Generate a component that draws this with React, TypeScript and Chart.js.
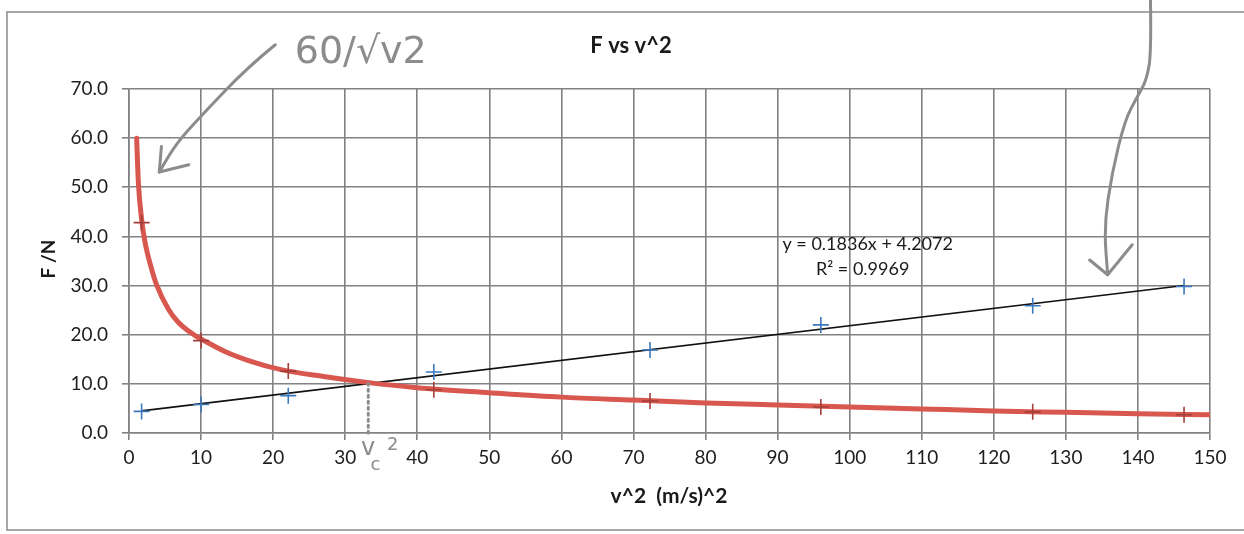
import React, { useEffect, useRef } from 'react';
import { Chart, registerables } from 'chart.js';

Chart.register(...registerables);

// ---- data ----
const v2Values = [1.75, 10.0, 22.1, 42.3, 72.3, 96.0, 125.4, 146.4];
const forceMeasured = [4.4, 5.8, 7.6, 12.4, 16.9, 22.0, 25.9, 29.8];
const forceRed = [42.8, 18.8, 12.6, 8.8, 6.5, 5.3, 4.3, 3.7];

const trendX = [1.75, 146.4];
const trendY = [4.5, 30.0];

const curveX = [1.06, 1.3, 1.75, 2.2, 3.13, 3.82, 5.43, 6.8, 9.1, 10.3, 13.3, 16.9, 21.1, 27, 33, 40, 50, 60, 70, 80, 90, 100, 110, 120, 130, 140, 150];
const curveY = [60.0, 51.0, 43.5, 39.0, 33.4, 30.2, 25.3, 22.6, 19.9, 18.9, 16.6, 14.6, 12.9, 11.5, 10.3, 9.2, 8.2, 7.3, 6.7, 6.1, 5.7, 5.3, 4.9, 4.5, 4.2, 3.9, 3.7];

const yTickLabels = ['0.0', '10.0', '20.0', '30.0', '40.0', '50.0', '60.0', '70.0'];

const chartTitle = 'F vs v^2';
const xTitle = 'v^2  (m/s)^2';
const yTitle = 'F /N';
const trendLabel1 = 'y = 0.1836x + 4.2072';
const trendLabel2 = 'R² = 0.9969';

// handwritten annotations, in data units
const arrowLeftX = [20.3, 16.5, 9.85, 6.5, 4.2];
const arrowLeftY = [79.0, 74.5, 64.3, 58.8, 53.1];
const arrowLeftHeadX = [4.5, 4.2, 8.3];
const arrowLeftHeadY = [58.3, 53.1, 54.6];
const arrowRightX = [141.7, 141.9, 141.2, 139.9, 138.2, 136.4, 135.3, 135.8];
const arrowRightY = [91.0, 77.9, 71.8, 68.4, 63.7, 53.0, 42.0, 32.2];
const arrowRightHeadX = [133.3, 135.8, 139.2];
const arrowRightHeadY = [35.2, 32.2, 38.3];
const vcX = 33.2;
const vcY = 10.1;

const GRID = '#828282';
const FONT = 'Lato, "Open Sans", sans-serif';

const pts = (xs: number[], ys: number[]) => xs.map((x, i) => ({ x, y: ys[i] }));

const decorPlugin = {
  id: 'decor',
  beforeDraw(chart: any) {
    const ctx = chart.ctx;
    ctx.save();
    ctx.fillStyle = '#ffffff';
    ctx.fillRect(0, 0, chart.width, chart.height);
    ctx.strokeStyle = '#8a8a8a';
    ctx.lineWidth = 1.5;
    ctx.beginPath();
    ctx.moveTo(chart.width, 12);
    ctx.lineTo(7, 12);
    ctx.lineTo(7, 530);
    ctx.lineTo(chart.width, 530);
    ctx.stroke();
    ctx.restore();
  },
  afterDatasetsDraw(chart: any) {
    const ctx = chart.ctx;
    const xs = chart.scales.x;
    const ys = chart.scales.y;
    const px = (v: number) => xs.getPixelForValue(v);
    const py = (v: number) => ys.getPixelForValue(v);
    ctx.save();
    // trend label
    ctx.fillStyle = '#1a1a1a';
    ctx.font = `18px ${FONT}`;
    ctx.textAlign = 'center';
    ctx.textBaseline = 'middle';
    ctx.fillText(trendLabel1, px(102.5), py(38.4));
    ctx.fillText(trendLabel2, px(101.8), py(33.4));

    // handwriting
    ctx.strokeStyle = '#8c8c8c';
    ctx.fillStyle = '#8c8c8c';
    ctx.lineWidth = 3;
    ctx.lineCap = 'round';
    ctx.lineJoin = 'round';
    const smooth = (ax: number[], ay: number[]) => {
      const p = ax.map((x, i) => [px(x), py(ay[i])]);
      ctx.beginPath();
      ctx.moveTo(p[0][0], p[0][1]);
      for (let i = 1; i < p.length - 1; i++) {
        const mx = (p[i][0] + p[i + 1][0]) / 2;
        const my = (p[i][1] + p[i + 1][1]) / 2;
        ctx.quadraticCurveTo(p[i][0], p[i][1], mx, my);
      }
      ctx.lineTo(p[p.length - 1][0], p[p.length - 1][1]);
      ctx.stroke();
    };
    const poly = (ax: number[], ay: number[]) => {
      ctx.beginPath();
      ax.forEach((x, i) => {
        if (i === 0) ctx.moveTo(px(x), py(ay[i]));
        else ctx.lineTo(px(x), py(ay[i]));
      });
      ctx.stroke();
    };
    smooth(arrowLeftX, arrowLeftY);
    poly(arrowLeftHeadX, arrowLeftHeadY);
    smooth(arrowRightX, arrowRightY);
    poly(arrowRightHeadX, arrowRightHeadY);

    // dotted v_c^2 line
    ctx.setLineDash([2, 4]);
    ctx.beginPath();
    ctx.moveTo(px(vcX), py(vcY));
    ctx.lineTo(px(vcX), py(0));
    ctx.stroke();
    ctx.setLineDash([]);

    ctx.textAlign = 'left';
    ctx.textBaseline = 'alphabetic';
    ctx.font = `38px "DejaVu Sans", sans-serif`;
    ctx.fillText('60/√v2', px(23.0), py(75.3));
    ctx.font = `24px "DejaVu Sans", sans-serif`;
    ctx.fillText('v', px(32.2), py(-4.4));
    ctx.font = `18px "DejaVu Sans", sans-serif`;
    ctx.fillText('c', px(33.5), py(-7.5));
    ctx.fillText('2', px(35.8), py(-3.5));

    // titles
    ctx.fillStyle = '#1a1a1a';
    ctx.textAlign = 'center';
    ctx.textBaseline = 'middle';
    ctx.font = `bold 22px ${FONT}`;
    ctx.fillText(chartTitle, 631, 46);
    ctx.font = `bold 21px ${FONT}`;
    ctx.fillText(xTitle, 669, 496);
    ctx.translate(49, 259);
    ctx.rotate(-Math.PI / 2);
    ctx.font = `bold 19px ${FONT}`;
    ctx.fillText(yTitle, 0, 0);
    ctx.restore();
  },
};

export default function App() {
  const ref = useRef<HTMLCanvasElement>(null);
  useEffect(() => {
    document.body.style.margin = '0';
    const canvas = ref.current;
    if (!canvas) return;
    const chart = new Chart(canvas, {
      type: 'scatter',
      data: {
        datasets: [
          {
            label: 'measured',
            data: pts(v2Values, forceMeasured),
            showLine: false,
            pointStyle: 'cross',
            pointRadius: 8,
            pointBorderWidth: 1.6,
            borderColor: '#3c78bd',
            backgroundColor: '#3c78bd',
          },
          {
            label: 'red',
            data: pts(v2Values, forceRed),
            showLine: false,
            pointStyle: 'cross',
            pointRadius: 8,
            pointBorderWidth: 1.6,
            borderColor: '#a33e3a',
            backgroundColor: '#a33e3a',
          },
          {
            label: 'curve',
            data: pts(curveX, curveY),
            showLine: true,
            borderColor: '#d8574e',
            borderWidth: 5,
            pointRadius: 0,
            cubicInterpolationMode: 'monotone',
            borderCapStyle: 'round',
          },
          {
            label: 'trend',
            data: pts(trendX, trendY),
            showLine: true,
            borderColor: '#111111',
            borderWidth: 1.6,
            pointRadius: 0,
          },
        ],
      },
      options: {
        responsive: false,
        animation: false,
        events: [],
        layout: { padding: { top: 89, right: 34, bottom: 0, left: 0 } },
        plugins: {
          legend: { display: false },
          title: { display: false },
          tooltip: { enabled: false },
        },
        scales: {
          x: {
            type: 'linear',
            min: 0,
            max: 150,
            afterFit: (s: any) => { s.height = 101; },
            ticks: { stepSize: 10, color: '#1e1e1e', font: { family: FONT, size: 19 }, padding: 6, maxRotation: 0 },
            grid: { color: GRID, lineWidth: 1.6, tickLength: 7, drawTicks: true },
            border: { display: true, color: GRID, width: 1.6 },
          },
          y: {
            type: 'linear',
            min: 0,
            max: 70,
            afterFit: (s: any) => { s.width = 129; },
            ticks: {
              stepSize: 10,
              color: '#1e1e1e',
              font: { family: FONT, size: 19 },
              padding: 14,
              callback: (_v: any, i: number) => yTickLabels[i],
            },
            grid: { color: GRID, lineWidth: 1.6, tickLength: 7, drawTicks: true },
            border: { display: true, color: GRID, width: 1.6 },
          },
        },
      },
      plugins: [decorPlugin],
    } as any);
    return () => chart.destroy();
  }, []);
  return (
    <div style={{ width: 1244, height: 534, background: '#fff' }}>
      <canvas ref={ref} width={1244} height={534} style={{ display: 'block' }} />
    </div>
  );
}
